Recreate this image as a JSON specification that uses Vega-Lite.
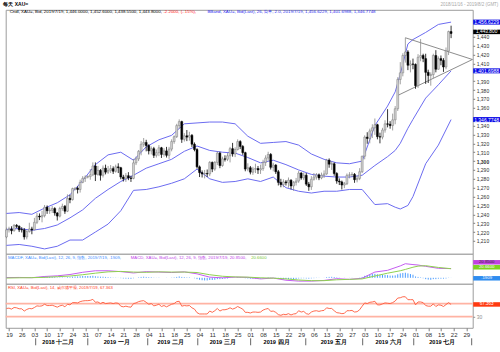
{
"$schema": "https://vega.github.io/schema/vega-lite/v6.json",
"background": "white",
"padding": {"left": 2.7, "top": 0.8, "right": 0, "bottom": 0},
"spacing": 0,
"bounds": "flush",
"config": {"font": "Liberation Sans", "view": {"stroke": "#9c9c9c", "strokeWidth": 1, "fill": "white"}},
"resolve": {"scale": {"x": "independent", "y": "independent"}},
"datasets": {
"k": [
{"i":0,"o":1214.5,"h":1225,"l":1213,"c":1222.5,"r":55,"f":0.5},
{"i":1,"o":1222.5,"h":1226,"l":1219.5,"c":1223.5,"r":56,"f":0.6},
{"i":2,"o":1223.5,"h":1226.5,"l":1217.5,"c":1221.5,"r":53,"f":0.5},
{"i":3,"o":1221.5,"h":1229,"l":1220.5,"c":1227.5,"r":58,"f":0.8},
{"i":4,"o":1227.5,"h":1229,"l":1224.5,"c":1226.5,"r":57,"f":0.8},
{"i":5,"o":1226.5,"h":1227.5,"l":1220,"c":1222.5,"r":54,"f":0.5},
{"i":6,"o":1223,"h":1225.5,"l":1219.5,"c":1222.5,"r":54,"f":0.4},
{"i":7,"o":1222.5,"h":1224.5,"l":1211.5,"c":1214.5,"r":47,"f":-0.2},
{"i":8,"o":1214.5,"h":1222,"l":1211.8,"c":1220.5,"r":52,"f":-0.1},
{"i":9,"o":1220.5,"h":1230.5,"l":1219.5,"c":1223.5,"r":55,"f":0.2},
{"i":10,"o":1223.5,"h":1226,"l":1217.5,"c":1222.5,"r":54,"f":0.1},
{"i":11,"o":1222.5,"h":1236,"l":1222,"c":1231,"r":58,"f":1.5},
{"i":12,"o":1231,"h":1241.5,"l":1229,"c":1238,"r":63,"f":2},
{"i":13,"o":1238,"h":1241,"l":1233.5,"c":1237,"r":62,"f":2},
{"i":14,"o":1237,"h":1244,"l":1231,"c":1238.5,"r":63,"f":2},
{"i":15,"o":1238.5,"h":1250.5,"l":1236.5,"c":1248,"r":68,"f":3},
{"i":16,"o":1248,"h":1250,"l":1240.5,"c":1244,"r":64,"f":2.5},
{"i":17,"o":1244,"h":1248,"l":1240.5,"c":1244.5,"r":64,"f":2.2},
{"i":18,"o":1244.5,"h":1249.5,"l":1241.5,"c":1246.5,"r":65,"f":2},
{"i":19,"o":1246.5,"h":1248,"l":1238.5,"c":1241.5,"r":62,"f":1.5},
{"i":20,"o":1241.5,"h":1242.5,"l":1233,"c":1238,"r":59,"f":1},
{"i":21,"o":1238,"h":1248.5,"l":1236.5,"c":1246.5,"r":63,"f":1},
{"i":22,"o":1246.5,"h":1252,"l":1244,"c":1249,"r":65,"f":1},
{"i":23,"o":1249,"h":1250.5,"l":1240.5,"c":1243.5,"r":60,"f":0.5},
{"i":24,"o":1243.5,"h":1262.5,"l":1242.5,"c":1258,"r":68,"f":1.5},
{"i":25,"o":1258,"h":1262,"l":1252.5,"c":1256.5,"r":66,"f":1.5},
{"i":26,"o":1256.5,"h":1270,"l":1255.5,"c":1269,"r":73,"f":2.5},
{"i":27,"o":1268.5,"h":1270.5,"l":1267,"c":1269.5,"r":73,"f":3},
{"i":28,"o":1269.5,"h":1271.5,"l":1263.5,"c":1268,"r":72,"f":3},
{"i":29,"o":1268,"h":1279,"l":1264.5,"c":1276,"r":76,"f":3.5},
{"i":30,"o":1276,"h":1283,"l":1275,"c":1280.5,"r":78,"f":4},
{"i":31,"o":1280.5,"h":1284,"l":1276.5,"c":1282,"r":79,"f":4},
{"i":32,"o":1282,"h":1284,"l":1280.5,"c":1282.5,"r":79,"f":4},
{"i":33,"o":1282.5,"h":1291,"l":1279,"c":1284.5,"r":80,"f":4},
{"i":34,"o":1284.5,"h":1298.5,"l":1283,"c":1294.5,"r":83,"f":4.5},
{"i":35,"o":1294.5,"h":1298.5,"l":1277.5,"c":1285,"r":74,"f":3.5},
{"i":36,"o":1285,"h":1294.5,"l":1283.5,"c":1289.5,"r":75,"f":3},
{"i":37,"o":1289.5,"h":1291,"l":1278,"c":1284,"r":70,"f":2.5},
{"i":38,"o":1284,"h":1295,"l":1281.5,"c":1292,"r":74,"f":2.5},
{"i":39,"o":1292,"h":1296,"l":1285,"c":1287.5,"r":70,"f":2},
{"i":40,"o":1287.5,"h":1294.5,"l":1285.5,"c":1289.5,"r":71,"f":1.5},
{"i":41,"o":1289.5,"h":1295.5,"l":1286.5,"c":1291.5,"r":72,"f":1},
{"i":42,"o":1291.5,"h":1294,"l":1285.5,"c":1288.5,"r":70,"f":0.5},
{"i":43,"o":1288.5,"h":1296,"l":1287,"c":1293.5,"r":72,"f":0.5},
{"i":44,"o":1293.5,"h":1297.5,"l":1286.5,"c":1292.5,"r":71,"f":0.2},
{"i":45,"o":1292.5,"h":1293.5,"l":1279.5,"c":1282,"r":62,"f":-0.8},
{"i":46,"o":1282,"h":1284.5,"l":1277,"c":1280,"r":60,"f":-1.5},
{"i":47,"o":1280,"h":1286.5,"l":1276.5,"c":1283.5,"r":62,"f":-1.8},
{"i":48,"o":1283.5,"h":1287.5,"l":1278.5,"c":1281,"r":60,"f":-2},
{"i":49,"o":1281,"h":1283.5,"l":1276.5,"c":1280.5,"r":59,"f":-2.2},
{"i":50,"o":1280.5,"h":1302.5,"l":1279.5,"c":1298,"r":70,"f":-1},
{"i":51,"o":1298,"h":1305,"l":1295.5,"c":1302.5,"r":72,"f":0},
{"i":52,"o":1302.5,"h":1312.5,"l":1300,"c":1311,"r":76,"f":1},
{"i":53,"o":1311,"h":1322.5,"l":1306.5,"c":1319,"r":78,"f":2},
{"i":54,"o":1319,"h":1326,"l":1316,"c":1321,"r":79,"f":2.5},
{"i":55,"o":1321,"h":1324,"l":1311,"c":1317.5,"r":74,"f":2},
{"i":56,"o":1317.5,"h":1319,"l":1307.5,"c":1311.5,"r":68,"f":1.5},
{"i":57,"o":1311.5,"h":1316.5,"l":1307.5,"c":1314,"r":70,"f":1.2},
{"i":58,"o":1314,"h":1316,"l":1303.5,"c":1306.5,"r":63,"f":0.5},
{"i":59,"o":1306.5,"h":1313,"l":1304,"c":1309.5,"r":65,"f":0.3},
{"i":60,"o":1309.5,"h":1318,"l":1305.5,"c":1315,"r":68,"f":0.5},
{"i":61,"o":1315,"h":1316,"l":1303.5,"c":1307.5,"r":61,"f":0},
{"i":62,"o":1307.5,"h":1314.5,"l":1305,"c":1311.5,"r":64,"f":0},
{"i":63,"o":1311.5,"h":1316,"l":1304,"c":1306.5,"r":60,"f":-0.3},
{"i":64,"o":1306.5,"h":1316,"l":1302.5,"c":1313.5,"r":64,"f":0},
{"i":65,"o":1313.5,"h":1324.5,"l":1311,"c":1322,"r":68,"f":0.5},
{"i":66,"o":1322,"h":1329,"l":1319.5,"c":1327.5,"r":70,"f":1},
{"i":67,"o":1327.5,"h":1342,"l":1326,"c":1340,"r":76,"f":2},
{"i":68,"o":1340,"h":1347,"l":1336.5,"c":1344.5,"r":77,"f":3},
{"i":69,"o":1344.5,"h":1345.5,"l":1320.5,"c":1324.5,"r":62,"f":2},
{"i":70,"o":1324.5,"h":1331.5,"l":1322,"c":1328.5,"r":64,"f":1.5},
{"i":71,"o":1328.5,"h":1335,"l":1322.5,"c":1327,"r":63,"f":1},
{"i":72,"o":1327,"h":1333,"l":1323,"c":1329,"r":64,"f":1},
{"i":73,"o":1329,"h":1330.5,"l":1316,"c":1319,"r":57,"f":0},
{"i":74,"o":1319,"h":1321,"l":1311,"c":1313,"r":53,"f":-1},
{"i":75,"o":1313,"h":1314.5,"l":1291.5,"c":1293.5,"r":42,"f":-3},
{"i":76,"o":1293.5,"h":1295,"l":1282,"c":1287,"r":38,"f":-4.5},
{"i":77,"o":1287,"h":1289.5,"l":1281.5,"c":1285.5,"r":38,"f":-5.5},
{"i":78,"o":1285.5,"h":1290,"l":1280.5,"c":1286,"r":38,"f":-6},
{"i":79,"o":1286,"h":1290.5,"l":1282,"c":1285.5,"r":38,"f":-6},
{"i":80,"o":1285.5,"h":1300,"l":1283,"c":1298.5,"r":47,"f":-5},
{"i":81,"o":1298.5,"h":1299.5,"l":1287.5,"c":1291,"r":43,"f":-5},
{"i":82,"o":1291,"h":1300,"l":1289,"c":1298.5,"r":48,"f":-4.5},
{"i":83,"o":1298.5,"h":1311,"l":1295.5,"c":1309,"r":55,"f":-3},
{"i":84,"o":1309,"h":1310.5,"l":1292,"c":1295,"r":47,"f":-3},
{"i":85,"o":1295,"h":1305,"l":1293.5,"c":1302.5,"r":51,"f":-2.5},
{"i":86,"o":1302.5,"h":1306.5,"l":1299.5,"c":1302,"r":51,"f":-2},
{"i":87,"o":1302,"h":1309,"l":1300,"c":1306,"r":53,"f":-1.5},
{"i":88,"o":1306,"h":1316,"l":1298.5,"c":1314,"r":57,"f":-0.5},
{"i":89,"o":1314,"h":1320.5,"l":1305,"c":1308,"r":53,"f":-0.5},
{"i":90,"o":1308,"h":1315.5,"l":1304.5,"c":1313,"r":56,"f":0},
{"i":91,"o":1313,"h":1324.5,"l":1312,"c":1322,"r":61,"f":1},
{"i":92,"o":1322,"h":1323.5,"l":1313.5,"c":1316.5,"r":57,"f":1},
{"i":93,"o":1316.5,"h":1318,"l":1307,"c":1309.5,"r":53,"f":0.5},
{"i":94,"o":1309.5,"h":1310.5,"l":1288.5,"c":1291,"r":43,"f":-1},
{"i":95,"o":1291,"h":1297.5,"l":1288.5,"c":1292.5,"r":43,"f":-1.5},
{"i":96,"o":1292.5,"h":1294.5,"l":1285,"c":1287.5,"r":41,"f":-2},
{"i":97,"o":1287.5,"h":1293.5,"l":1284.5,"c":1291,"r":44,"f":-2},
{"i":98,"o":1291,"h":1297,"l":1286.5,"c":1291.5,"r":44,"f":-2},
{"i":99,"o":1291.5,"h":1294.5,"l":1285.5,"c":1290,"r":43,"f":-2},
{"i":100,"o":1290,"h":1296,"l":1285.5,"c":1291.5,"r":44,"f":-1.8},
{"i":101,"o":1291.5,"h":1301.5,"l":1289,"c":1298.5,"r":50,"f":-1},
{"i":102,"o":1298.5,"h":1306.5,"l":1294.5,"c":1303.5,"r":53,"f":0},
{"i":103,"o":1303.5,"h":1310.5,"l":1300.5,"c":1307.5,"r":55,"f":1},
{"i":104,"o":1307.5,"h":1309,"l":1290.5,"c":1293,"r":46,"f":0.5},
{"i":105,"o":1293,"h":1298,"l":1288.5,"c":1295.5,"r":47,"f":0.3},
{"i":106,"o":1295.5,"h":1296.5,"l":1285.5,"c":1288,"r":43,"f":-0.5},
{"i":107,"o":1288,"h":1290,"l":1272.5,"c":1276,"r":36,"f":-2},
{"i":108,"o":1276,"h":1280,"l":1270.5,"c":1273.5,"r":34,"f":-2.5},
{"i":109,"o":1273.5,"h":1279.5,"l":1270.5,"c":1276.5,"r":37,"f":-3},
{"i":110,"o":1276.5,"h":1278.5,"l":1272.5,"c":1275.5,"r":36,"f":-3},
{"i":111,"o":1275.5,"h":1281.5,"l":1270,"c":1278.5,"r":39,"f":-3},
{"i":112,"o":1278.5,"h":1279.5,"l":1268,"c":1272,"r":35,"f":-3},
{"i":113,"o":1272,"h":1277.5,"l":1266.5,"c":1276,"r":38,"f":-2.8},
{"i":114,"o":1276,"h":1281,"l":1272.5,"c":1277.5,"r":39,"f":-2.5},
{"i":115,"o":1277.5,"h":1289,"l":1275.5,"c":1286.5,"r":48,"f":-1.5},
{"i":116,"o":1286.5,"h":1287.5,"l":1279,"c":1281,"r":44,"f":-1.2},
{"i":117,"o":1281,"h":1287,"l":1278.5,"c":1284,"r":46,"f":-1},
{"i":118,"o":1284,"h":1286.5,"l":1272,"c":1274,"r":39,"f":-1.5},
{"i":119,"o":1274,"h":1276.5,"l":1266.5,"c":1271,"r":37,"f":-1.8},
{"i":120,"o":1271,"h":1283,"l":1267.5,"c":1279.5,"r":44,"f":-1.2},
{"i":121,"o":1279.5,"h":1286.5,"l":1278,"c":1282,"r":47,"f":-0.8},
{"i":122,"o":1282,"h":1286.5,"l":1279,"c":1284.5,"r":48,"f":-0.5},
{"i":123,"o":1284.5,"h":1286,"l":1278.5,"c":1281,"r":46,"f":-0.3},
{"i":124,"o":1281,"h":1287,"l":1279.5,"c":1284,"r":48,"f":0},
{"i":125,"o":1284,"h":1289.5,"l":1281,"c":1285.5,"r":49,"f":0.2},
{"i":126,"o":1285.5,"h":1302.5,"l":1284.5,"c":1301,"r":57,"f":1.5},
{"i":127,"o":1301,"h":1303,"l":1292.5,"c":1296.5,"r":55,"f":2},
{"i":128,"o":1296.5,"h":1299.5,"l":1290,"c":1297,"r":55,"f":2.2},
{"i":129,"o":1297,"h":1298.5,"l":1283.5,"c":1286,"r":48,"f":1.8},
{"i":130,"o":1286,"h":1287.5,"l":1274.5,"c":1277.5,"r":42,"f":1},
{"i":131,"o":1277.5,"h":1280.5,"l":1273,"c":1276.5,"r":41,"f":0.5},
{"i":132,"o":1276.5,"h":1278,"l":1268,"c":1273,"r":39,"f":0},
{"i":133,"o":1273,"h":1276.5,"l":1269.5,"c":1274.5,"r":40,"f":-0.3},
{"i":134,"o":1274.5,"h":1286,"l":1273,"c":1284,"r":48,"f":0},
{"i":135,"o":1284,"h":1287.5,"l":1280.5,"c":1284.5,"r":48,"f":0.2},
{"i":136,"o":1284.5,"h":1287.5,"l":1282,"c":1285,"r":49,"f":0.3},
{"i":137,"o":1285,"h":1286.5,"l":1275.5,"c":1279,"r":44,"f":0},
{"i":138,"o":1279,"h":1283.5,"l":1276,"c":1280.5,"r":45,"f":0},
{"i":139,"o":1280.5,"h":1292,"l":1278.5,"c":1288,"r":51,"f":0.5},
{"i":140,"o":1288,"h":1306,"l":1286.5,"c":1305.5,"r":62,"f":2},
{"i":141,"o":1305.5,"h":1329,"l":1302,"c":1327,"r":72,"f":4.5},
{"i":142,"o":1327,"h":1332.5,"l":1319.5,"c":1325.5,"r":70,"f":6},
{"i":143,"o":1325.5,"h":1336.5,"l":1320,"c":1334,"r":74,"f":7.5},
{"i":144,"o":1334,"h":1341.5,"l":1326,"c":1337.5,"r":75,"f":8.5},
{"i":145,"o":1337.5,"h":1348,"l":1329.5,"c":1341,"r":77,"f":9},
{"i":146,"o":1341,"h":1342,"l":1324.5,"c":1327.5,"r":66,"f":8},
{"i":147,"o":1327.5,"h":1332,"l":1320,"c":1327,"r":66,"f":7},
{"i":148,"o":1327,"h":1337.5,"l":1324.5,"c":1335,"r":69,"f":6.5},
{"i":149,"o":1335,"h":1346,"l":1332,"c":1342,"r":72,"f":6.5},
{"i":150,"o":1342,"h":1358.5,"l":1338,"c":1341.5,"r":71,"f":6},
{"i":151,"o":1341.5,"h":1345,"l":1336.5,"c":1340,"r":70,"f":5},
{"i":152,"o":1340,"h":1353.5,"l":1334.5,"c":1346.5,"r":73,"f":5},
{"i":153,"o":1346.5,"h":1362,"l":1341.5,"c":1359,"r":78,"f":5.5},
{"i":154,"o":1359,"h":1394.5,"l":1356.5,"c":1392,"r":87,"f":8},
{"i":155,"o":1392,"h":1411.5,"l":1386.5,"c":1399.5,"r":88,"f":10},
{"i":156,"o":1399.5,"h":1421.5,"l":1395.5,"c":1419,"r":91,"f":11},
{"i":157,"o":1419,"h":1439,"l":1411,"c":1423,"r":91,"f":11.5},
{"i":158,"o":1423,"h":1425,"l":1402.5,"c":1408,"r":82,"f":10},
{"i":159,"o":1408,"h":1413.5,"l":1400,"c":1409.5,"r":82,"f":8.5},
{"i":160,"o":1409.5,"h":1415.5,"l":1403.5,"c":1409,"r":82,"f":7},
{"i":161,"o":1409,"h":1410,"l":1381.5,"c":1385,"r":66,"f":3},
{"i":162,"o":1385,"h":1420.5,"l":1382.5,"c":1417,"r":75,"f":2},
{"i":163,"o":1417,"h":1437.5,"l":1412.5,"c":1419,"r":75,"f":1},
{"i":164,"o":1419,"h":1421,"l":1411.5,"c":1415.5,"r":73,"f":-1},
{"i":165,"o":1415.5,"h":1421,"l":1387,"c":1400,"r":64,"f":-3},
{"i":166,"o":1400,"h":1403,"l":1388,"c":1396.5,"r":62,"f":-4},
{"i":167,"o":1396.5,"h":1400,"l":1385,"c":1397.5,"r":62,"f":-4.5},
{"i":168,"o":1397.5,"h":1421,"l":1393.5,"c":1419,"r":69,"f":-3},
{"i":169,"o":1419,"h":1425,"l":1400,"c":1403.5,"r":61,"f":-3},
{"i":170,"o":1403.5,"h":1418,"l":1403,"c":1415.5,"r":66,"f":-2},
{"i":171,"o":1415.5,"h":1419,"l":1408,"c":1413.5,"r":65,"f":-2},
{"i":172,"o":1413.5,"h":1416,"l":1400.5,"c":1406,"r":61,"f":-2},
{"i":173,"o":1406,"h":1428,"l":1403.5,"c":1424,"r":67,"f":-1.5},
{"i":174,"o":1424,"h":1447,"l":1419.5,"c":1446,"r":73,"f":-0.5},
{"i":175,"o":1446,"h":1452.6,"l":1438.55,"c":1443.8,"r":67.363,"f":0.19}
],
"bb": [
{"i":0,"u":1241,"m":1223,"l":1205},{"i":5,"u":1242,"m":1224,"l":1206},{"i":10,"u":1240,"m":1222,"l":1204},
{"i":15,"u":1247,"m":1224,"l":1201},{"i":20,"u":1253,"m":1228,"l":1204},{"i":25,"u":1262,"m":1236,"l":1211},
{"i":30,"u":1278,"m":1245,"l":1211},{"i":35,"u":1296,"m":1258,"l":1220},{"i":40,"u":1307,"m":1268,"l":1229},
{"i":45,"u":1310,"m":1277,"l":1244},{"i":50,"u":1301,"m":1284,"l":1267},{"i":55,"u":1316,"m":1292,"l":1268},
{"i":60,"u":1324,"m":1297,"l":1271},{"i":65,"u":1329,"m":1302,"l":1275},{"i":70,"u":1342,"m":1311,"l":1280},
{"i":75,"u":1343,"m":1317,"l":1291},{"i":80,"u":1344,"m":1312,"l":1280},{"i":85,"u":1344,"m":1310,"l":1276},
{"i":90,"u":1342,"m":1309,"l":1277},{"i":95,"u":1328,"m":1304,"l":1280},{"i":100,"u":1320,"m":1298,"l":1277},
{"i":105,"u":1321,"m":1301,"l":1282},{"i":110,"u":1322,"m":1296,"l":1270},{"i":115,"u":1318,"m":1290,"l":1266},
{"i":120,"u":1308,"m":1285,"l":1264},{"i":125,"u":1302,"m":1283,"l":1266},{"i":130,"u":1298,"m":1282,"l":1266},
{"i":135,"u":1297,"m":1282,"l":1268},{"i":140,"u":1300,"m":1284,"l":1268},{"i":145,"u":1340,"m":1295,"l":1251},
{"i":150,"u":1362,"m":1305,"l":1252},{"i":153,"u":1378,"m":1312,"l":1248},{"i":155,"u":1398,"m":1320,"l":1246},
{"i":158,"u":1432,"m":1337,"l":1250},{"i":160,"u":1437,"m":1347,"l":1260},{"i":165,"u":1445,"m":1371,"l":1297},
{"i":170,"u":1454,"m":1386,"l":1318},{"i":175,"u":1456.6229,"m":1401.6988,"l":1346.7748}
],
"md": [
{"i":0,"m":0.5,"s":-0.5},{"i":5,"m":0.8,"s":0},{"i":10,"m":0.2,"s":0.3},{"i":15,"m":3,"s":1},{"i":20,"m":4.5,"s":2.5},
{"i":25,"m":7.5,"s":4},{"i":30,"m":12.5,"s":7},{"i":35,"m":16,"s":10.5},{"i":40,"m":16,"s":13.5},{"i":45,"m":14,"s":14.5},
{"i":50,"m":11,"s":13},{"i":55,"m":14,"s":12.5},{"i":60,"m":13,"s":13.5},{"i":65,"m":12,"s":13},{"i":70,"m":13.5,"s":13},
{"i":75,"m":9,"s":12},{"i":80,"m":1.5,"s":7},{"i":85,"m":0,"s":3.5},{"i":90,"m":1.5,"s":2},{"i":95,"m":1,"s":1.5},
{"i":100,"m":-2.5,"s":0},{"i":105,"m":-0.5,"s":-0.8},{"i":110,"m":-5.5,"s":-2.5},{"i":115,"m":-7.5,"s":-5},{"i":120,"m":-7.5,"s":-6.5},
{"i":125,"m":-6,"s":-6.5},{"i":130,"m":-2,"s":-4.5},{"i":135,"m":-3.5,"s":-3.5},{"i":140,"m":-1,"s":-2.5},{"i":145,"m":13,"s":4},
{"i":150,"m":17,"s":10.5},{"i":155,"m":27,"s":16},{"i":157,"m":32,"s":19},{"i":160,"m":30,"s":24},{"i":162,"m":29,"s":26.5},
{"i":165,"m":26,"s":27.5},{"i":170,"m":21.5,"s":23.5},{"i":175,"m":20.85,"s":20.66}
],
"tri": [
{"g":"a","i":157,"p":1439},{"g":"a","i":183.4,"p":1414.5},
{"g":"b","i":154,"p":1374},{"g":"b","i":183.4,"p":1414.5}
],
"mon": [
{"i":20.4,"t":"2018 十二月"},{"i":43.4,"t":"2019 一月"},{"i":64.6,"t":"2019 二月"},{"i":85.1,"t":"2019 三月"},
{"i":106.3,"t":"2019 四月"},{"i":128.8,"t":"2019 五月"},{"i":150.4,"t":"2019 六月"},{"i":171.5,"t":"2019 七月"}
],
"sep": [
{"i":11.5},{"i":32},{"i":55.6},{"i":75.3},{"i":96.1},{"i":117.8},{"i":140.2},{"i":160.3},{"i":183.1}
]
},
"vconcat": [
{
"width": 467, "height": 244,
"layer": [
{"data": {"name": "bb"}, "mark": {"type": "line", "color": "#6b6bf0", "strokeWidth": 1},
 "encoding": {
  "x": {"field": "i", "type": "quantitative", "scale": {"domain": [-0.3, 183.5], "nice": false, "zero": false, "padding": 0}, "axis": null},
  "y": {"field": "u", "type": "quantitative", "scale": {"domain": [1195.5, 1470.5], "nice": false, "zero": false, "padding": 0},
        "axis": {"orient": "right", "title": null, "values": [1210,1220,1230,1240,1250,1260,1270,1280,1290,1300,1310,1320,1330,1340,1360,1370,1380,1390,1410,1420,1430,1440],
                 "tickCount": 200, "format": ",d", "labelFontSize": 5, "labelColor": "#303030",
                 "labelFontWeight": {"condition": {"test": "datum.value == 1300", "value": "bold"}, "value": "normal"},
                 "tickSize": 2, "tickColor": "#808080", "domain": false, "grid": false, "labelPadding": 1.5, "labelOverlap": false}}}},
{"data": {"name": "bb"}, "mark": {"type": "line", "color": "#6b6bf0", "strokeWidth": 1},
 "encoding": {"x": {"field": "i", "type": "quantitative"}, "y": {"field": "m", "type": "quantitative"}}},
{"data": {"name": "bb"}, "mark": {"type": "line", "color": "#6b6bf0", "strokeWidth": 1},
 "encoding": {"x": {"field": "i", "type": "quantitative"}, "y": {"field": "l", "type": "quantitative"}}},
{"data": {"name": "tri"}, "mark": {"type": "line", "color": "#707070", "strokeWidth": 0.8},
 "encoding": {"x": {"field": "i", "type": "quantitative"}, "y": {"field": "p", "type": "quantitative"}, "detail": {"field": "g"}}},
{"data": {"name": "k"}, "mark": {"type": "rule", "strokeWidth": 0.8},
 "encoding": {"x": {"field": "i", "type": "quantitative"}, "y": {"field": "l", "type": "quantitative"}, "y2": {"field": "h"},
  "color": {"condition": {"test": "datum.c >= datum.o", "value": "#8a8a8a"}, "value": "#000000"}}},
{"data": {"name": "k"}, "mark": {"type": "bar", "size": 1.9, "strokeWidth": 0.5},
 "encoding": {"x": {"field": "i", "type": "quantitative", "scale": {"padding": 0}}, "y": {"field": "o", "type": "quantitative"}, "y2": {"field": "c"},
  "fill": {"condition": {"test": "datum.c >= datum.o", "value": "#d4d4d4"}, "value": "#000000"},
  "stroke": {"condition": {"test": "datum.c >= datum.o", "value": "#7a7a7a"}, "value": "#000000"}}},
{"data": {"values": [{}]},
 "layer": [
  {"mark": {"type": "text", "text": "每天 XAU=", "align": "left", "baseline": "top", "fontSize": 5, "fontWeight": "bold", "color": "#000000", "dx": -2.3, "clip": false},
   "encoding": {"x": {"datum": -0.3}, "y": {"datum": 1479.2}}},
  {"mark": {"type": "text", "text": "2018/11/16 - 2019/8/2 (GMT)", "align": "right", "baseline": "top", "fontSize": 4.5, "color": "#a8a8a8", "clip": false},
   "encoding": {"x": {"datum": 193.6}, "y": {"datum": 1479.2}}},
  {"mark": {"type": "text", "text": "Cndl, XAU=, Bid, 2019/7/19, 1,446.0000, 1,452.6000, 1,438.5500, 1,443.8000,", "align": "left", "baseline": "middle", "fontSize": 4.4, "color": "#000000"},
   "encoding": {"x": {"datum": 1.27}, "y": {"datum": 1467.7}}},
  {"mark": {"type": "text", "text": "-2.2000, (-.15%),", "align": "left", "baseline": "middle", "fontSize": 4.4, "color": "#ff2020"},
   "encoding": {"x": {"datum": 61.76}, "y": {"datum": 1467.7}}},
  {"mark": {"type": "text", "text": "BBand, XAU=, Bid(Last), 26, 简单, 2.0, 2019/7/19, 1,456.6229, 1,401.6988, 1,346.7748", "align": "left", "baseline": "middle", "fontSize": 4.4, "color": "#2a2af0"},
   "encoding": {"x": {"datum": 79.08}, "y": {"datum": 1467.7}}}
 ]},
{"data": {"values": [{}]}, "encoding": {"y": {"datum": 1456.6229}},
 "layer": [
  {"mark": {"type": "rule", "color": "#0a0ae6", "strokeWidth": 5, "clip": false}, "encoding": {"x": {"datum": 183.7}, "x2": {"datum": 194.3}}},
  {"mark": {"type": "text", "text": "1,456.6229", "color": "white", "fontSize": 5, "baseline": "middle", "clip": false}, "encoding": {"x": {"datum": 189}}}
 ]},
{"data": {"values": [{}]}, "encoding": {"y": {"datum": 1445.6}},
 "layer": [
  {"mark": {"type": "rule", "color": "#000000", "strokeWidth": 4.5, "clip": false}, "encoding": {"x": {"datum": 183.7}, "x2": {"datum": 194.3}}},
  {"mark": {"type": "text", "text": "1,443.800", "color": "white", "fontSize": 4.8, "baseline": "middle", "clip": false}, "encoding": {"x": {"datum": 189}}}
 ]},
{"data": {"values": [{}]}, "encoding": {"y": {"datum": 1401.6988}},
 "layer": [
  {"mark": {"type": "rule", "color": "#0a0ae6", "strokeWidth": 5, "clip": false}, "encoding": {"x": {"datum": 183.7}, "x2": {"datum": 194.3}}},
  {"mark": {"type": "text", "text": "1,401.6988", "color": "white", "fontSize": 5, "baseline": "middle", "clip": false}, "encoding": {"x": {"datum": 189}}}
 ]},
{"data": {"values": [{}]}, "encoding": {"y": {"datum": 1346.7748}},
 "layer": [
  {"mark": {"type": "rule", "color": "#0a0ae6", "strokeWidth": 5, "clip": false}, "encoding": {"x": {"datum": 183.7}, "x2": {"datum": 194.3}}},
  {"mark": {"type": "text", "text": "1,346.7748", "color": "white", "fontSize": 5, "baseline": "middle", "clip": false}, "encoding": {"x": {"datum": 189}}}
 ]}
]
},
{
"width": 467, "height": 30,
"layer": [
{"data": {"name": "k"}, "mark": {"type": "rule", "color": "#4a9cff", "strokeWidth": 1},
 "encoding": {
  "x": {"field": "i", "type": "quantitative", "scale": {"domain": [-0.3, 183.5], "nice": false, "zero": false, "padding": 0}, "axis": null},
  "y": {"field": "f", "type": "quantitative", "scale": {"domain": [-13.6, 54.5], "nice": false, "zero": false, "padding": 0}, "axis": null},
  "y2": {"datum": 0}}},
{"data": {"name": "md"}, "mark": {"type": "line", "color": "#c45cf0", "strokeWidth": 1},
 "encoding": {"x": {"field": "i", "type": "quantitative"}, "y": {"field": "m", "type": "quantitative"}}},
{"data": {"name": "md"}, "mark": {"type": "line", "color": "#8fd14f", "strokeWidth": 1},
 "encoding": {"x": {"field": "i", "type": "quantitative"}, "y": {"field": "s", "type": "quantitative"}}},
{"data": {"values": [{}]}, "encoding": {"y": {"datum": 44.3}},
 "layer": [
  {"mark": {"type": "text", "text": "MACDF, XAU=, Bid(Last), 12, 26, 9, 指数, 2019/7/19, .1909,", "align": "left", "baseline": "middle", "fontSize": 4.3, "color": "#3c8cff"},
   "encoding": {"x": {"datum": 0.6}}},
  {"mark": {"type": "text", "text": "MACD, XAU=, Bid(Last), 12, 26, 9, 指数, 2019/7/19, 20.8500,", "align": "left", "baseline": "middle", "fontSize": 4.3, "color": "#c040e8"},
   "encoding": {"x": {"datum": 48.9}}},
  {"mark": {"type": "text", "text": "20.6600", "align": "left", "baseline": "middle", "fontSize": 4.3, "color": "#7cc83a"},
   "encoding": {"x": {"datum": 96.3}}}
 ]},
{"data": {"values": [{}]}, "encoding": {"y": {"datum": 35.2}},
 "layer": [
  {"mark": {"type": "rule", "color": "#c040e0", "strokeWidth": 4.5, "clip": false}, "encoding": {"x": {"datum": 183.7}, "x2": {"datum": 194.3}}},
  {"mark": {"type": "text", "text": "20.8500", "color": "#303030", "fontSize": 4.3, "baseline": "middle", "clip": false}, "encoding": {"x": {"datum": 189}}}
 ]},
{"data": {"values": [{}]}, "encoding": {"y": {"datum": 23.9}},
 "layer": [
  {"mark": {"type": "rule", "color": "#7ed321", "strokeWidth": 4.5, "clip": false}, "encoding": {"x": {"datum": 183.7}, "x2": {"datum": 194.3}}},
  {"mark": {"type": "text", "text": "20.6600", "color": "white", "fontSize": 4.3, "baseline": "middle", "clip": false}, "encoding": {"x": {"datum": 189}}}
 ]},
{"data": {"values": [{}]}, "encoding": {"y": {"datum": -1.1}},
 "layer": [
  {"mark": {"type": "rule", "color": "#2e8cf0", "strokeWidth": 4.5, "clip": false}, "encoding": {"x": {"datum": 183.7}, "x2": {"datum": 194.3}}},
  {"mark": {"type": "text", "text": ".1909", "color": "white", "fontSize": 4.3, "baseline": "middle", "clip": false}, "encoding": {"x": {"datum": 189}}}
 ]}
]
},
{
"width": 467, "height": 44,
"layer": [
{"data": {"values": [{}]}, "mark": {"type": "rule", "color": "#ffb3a3", "strokeWidth": 1.8},
 "encoding": {
  "x": {"datum": -0.3, "type": "quantitative", "scale": {"domain": [-0.3, 183.5], "nice": false, "zero": false, "padding": 0},
        "axis": {"orient": "bottom", "title": null, "values": [1,6,11,16,21,26,31,36,41,46,51,56,61,66,71,76,81,86,91,96,101,106,111,116,121,126,131,136,141,146,151,156,161,166,171,176,181],
                 "tickCount": 200,
                 "labelExpr": "timeFormat(datetime(2018, 10, 19 + 7 * (datum.value - 1) / 5), '%d')",
                 "labelFontSize": 6, "labelColor": "#303030", "tickSize": 3, "tickColor": "#808080", "domain": false, "grid": false,
                 "labelPadding": 1, "labelOverlap": false, "labelFlush": false}},
  "x2": {"datum": 183.5},
  "y": {"datum": 70, "type": "quantitative", "scale": {"domain": [-4.5, 130.9], "nice": false, "zero": false, "padding": 0},
        "axis": {"orient": "right", "title": null, "values": [30], "tickCount": 50, "labelFontSize": 5, "labelColor": "#909090", "tickSize": 2, "tickColor": "#909090", "domain": false, "grid": false, "labelPadding": 1.5}}}},
{"data": {"values": [{}]}, "mark": {"type": "rule", "color": "#ffb3a3", "strokeWidth": 1.8},
 "encoding": {"x": {"datum": -0.3}, "x2": {"datum": 183.5}, "y": {"datum": 30}}},
{"data": {"name": "k"}, "mark": {"type": "line", "color": "#ff5a3c", "strokeWidth": 0.9},
 "encoding": {"x": {"field": "i", "type": "quantitative"}, "y": {"field": "r", "type": "quantitative"}}},
{"data": {"values": [{}]},
 "layer": [
  {"mark": {"type": "text", "text": "RSI, XAU=, Bid(Last), 14, 威尔德平滑, 2019/7/19, 67.363", "align": "left", "baseline": "middle", "fontSize": 4.2, "color": "#ff3a1a"},
   "encoding": {"x": {"datum": 0.6}, "y": {"datum": 117}}}
 ]},
{"data": {"values": [{}]}, "encoding": {"y": {"datum": 67.363}},
 "layer": [
  {"mark": {"type": "rule", "color": "#ff3a10", "strokeWidth": 4.5, "clip": false}, "encoding": {"x": {"datum": 183.7}, "x2": {"datum": 194.3}}},
  {"mark": {"type": "text", "text": "67.363", "color": "white", "fontSize": 4.5, "baseline": "middle", "clip": false}, "encoding": {"x": {"datum": 189}}}
 ]},
{"data": {"name": "mon"}, "mark": {"type": "text", "fontSize": 5.6, "fontWeight": "bold", "color": "#000000", "baseline": "middle", "clip": false},
 "encoding": {"x": {"field": "i", "type": "quantitative"}, "y": {"datum": -49.1}, "text": {"field": "t"}}},
{"data": {"name": "sep"}, "mark": {"type": "rule", "color": "#404040", "strokeWidth": 0.8, "clip": false},
 "encoding": {"x": {"field": "i", "type": "quantitative"}, "y": {"datum": -36.8}, "y2": {"datum": -58.3}}}
]
}
]
}
